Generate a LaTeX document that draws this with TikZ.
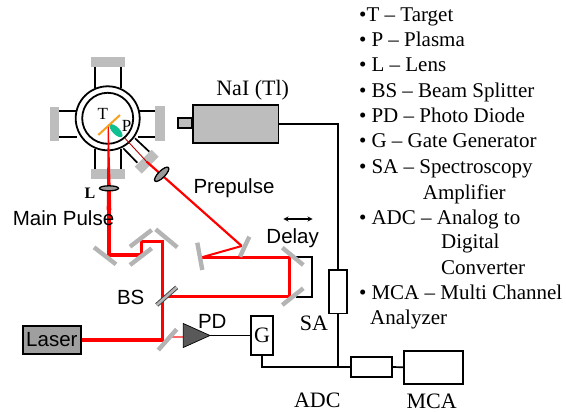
\documentclass[tikz,border=0pt]{standalone}
\usepackage{fontspec}
\setmainfont{Liberation Serif}
\setsansfont{Liberation Sans}
\definecolor{Mirror}{HTML}{b4b4b4}
\definecolor{Flange}{HTML}{bdbdbd}
\definecolor{Beam}{HTML}{ff0000}
\definecolor{Target}{HTML}{f5a01e}
\definecolor{Plasma}{HTML}{10c090}
\tikzset{%
wire/.style={draw, line width=1.7pt},%
box/.style={draw, line width=1.7pt, inner sep=0pt, fill=white},%
beamline/.style={draw=Beam, line width=3.3pt, line join=miter},%
mirror/.style={draw=Mirror, line width=4.4pt},%
flange/.style={fill=Flange},%
lens/.style={draw, fill=gray!80, line width=1.3pt},%
serif/.style={font=\fontsize{22}{24}\selectfont, inner sep=0pt},%
sans/.style={font=\sffamily\fontsize{20.5}{22}\selectfont, inner sep=0pt},%
item/.style={font=\fontsize{21}{23}\selectfont, inner sep=0pt, anchor=base west},%
}%
\begin{document}
\begin{tikzpicture}[x=1pt, y=-1pt]%
\useasboundingbox (0,0) rectangle (566,412);%
\draw[wire] (95.3,66) -- (95.3,88);%
\draw[wire] (120.7,66) -- (120.7,88);%
\draw[wire] (59,111) -- (77,111);%
\draw[wire] (59,136.7) -- (77,136.7);%
\draw[wire] (138,111) -- (156,111);%
\draw[wire] (138,136.7) -- (156,136.7);%
\draw[wire] (95.3,149) -- (95.3,170);%
\draw[wire] (120.7,149) -- (120.7,170);%
\draw[wire] (135,138.3) -- (149.3,151.7);%
\draw[wire] (123.3,148.3) -- (137.3,162.7);%
\fill[flange] (90.7,57.3) rectangle (125,66.7);%
\fill[flange] (50,106.7) rectangle (59.3,141);%
\fill[flange] (155.3,105.7) rectangle (164.7,141);%
\fill[flange] (90.7,169.3) rectangle (125,178.7);%
\fill[flange, rotate around={45:(146.7,161.7)}] (134.7,156.7) rectangle (158.7,166.7);%
\draw[line width=1.8pt, fill=white] (107.7,118.3) circle (32);%
\draw[line width=1.8pt, fill=white] (107.7,118.3) circle (25.5);%
\fill[Plasma, rotate around={-45:(116,130.7)}] (116,130.7) ellipse (8.5 and 3.6);%
\coordinate (target) at (108.3,125);%
\coordinate (lensL) at (109,188.3);%
\coordinate (bend1) at (109,255);%
\coordinate (bend2) at (141.7,255);%
\coordinate (bend3) at (141.7,241.7);%
\coordinate (bend4) at (162.7,241.7);%
\coordinate (laserbend) at (162.7,340);%
\coordinate (split) at (162.7,296.7);%
\coordinate (delay1) at (289.3,296.7);%
\coordinate (delay2) at (289.3,257.3);%
\coordinate (fold1) at (201.7,257.3);%
\coordinate (fold2) at (241.7,246);%
\coordinate (flangeP) at (146.7,161.7);%
\coordinate (plasma) at (125,138.3);%
\coordinate (pick) at (167.5,337);%
\coordinate (beamtop) at (109,208);%
\fill[Beam] (107.8,125) -- (108.8,125) -- (111.3,210) -- (106.7,210) -- cycle;%
\draw[Target, line width=2pt] (98.3,135) -- (120,115);%
\node[serif, font=\fontsize{17}{19}\selectfont] (labelT) at (102.7,114) {T};%
\node[serif, font=\fontsize{17}{19}\selectfont] (labelP) at (126.7,126) {P};%
\draw[Beam!70!black, line width=0.9pt] (plasma) -- (flangeP);%
\draw[Beam, line width=2.2pt] (flangeP) -- (fold2);%
\draw[Beam, line width=2pt] (fold2) -- (fold1);%
\draw[beamline, line width=2.7pt] (fold1) -- (delay2) -- (delay1) -- (split);%
\node[box, fill=gray!75, minimum width=58pt, minimum height=28pt, anchor=north west, sans] (laser) at (22,325) {Laser};%
\draw[beamline] (beamtop) -- (bend1) -- (bend2) -- (bend3) -- (bend4) -- (laserbend) -- (laser.east |- laserbend);%
\draw[mirror] (94,247.3) -- (116,264.3);%
\draw[mirror] (130,265) -- (151.7,248.3);%
\draw[mirror] (130,246.7) -- (151.7,230);%
\draw[mirror] (155.7,229.3) -- (177.3,247.3);%
\draw[mirror] (197.3,242.7) -- (202.3,270);%
\draw[mirror] (249.3,236.7) -- (240,256.7);%
\draw[line width=2.2pt] (296,257.3) -- (311.7,257.3) -- (311.7,297.3) -- (296,297.3);%
\draw[mirror] (282.3,247.7) -- (303.3,265);%
\draw[mirror] (282.3,305) -- (303.3,288.3);%
\draw[Beam!60!white, line width=1.4pt] (pick) -- (183.3,337);%
\draw[mirror] (158.3,350) -- (176.7,329.3);%
\draw[draw=gray!50!black, line width=4.4pt] (156.7,305) -- (176.7,287.3);%
\draw[mirror, line width=2.6pt] (156.7,305) -- (176.7,287.3);%
\draw[lens] (lensL) ellipse (9.5 and 2.5);%
\draw[lens, rotate around={45:(161.7,174.3)}] (161.7,174.3) ellipse (9.5 and 3.4);%
\node[serif, font=\bfseries\fontsize{16}{18}\selectfont] (labelL) at (90,193) {L};%
\node[sans] (mainpulse) at (63.5,218) {Main Pulse};%
\node[sans] (prepulse) at (234,188) {Prepulse};%
\node[sans] (delay) at (292.7,238) {Delay};%
\node[sans] (bs) at (130.7,297) {BS};%
\node[sans] (pd) at (212.3,321) {PD};%
\draw[<->, >=stealth, line width=1.3pt] (283.3,219) -- (312.7,219);%
\node[box, fill=Flange, minimum width=85.4pt, minimum height=38pt, anchor=north west] (nai) at (192.3,104) {};%
\node[box, fill=Flange, minimum width=13.3pt, minimum height=9.4pt, anchor=east] (naitip) at (192.3,123) {};%
\node[serif] (nailabel) at (252.7,90.5) {NaI (Tl)};%
\node[box, minimum width=18pt, minimum height=43.3pt] (sa) at (337.7,291.7) {};%
\node[box, minimum width=41pt, minimum height=19.4pt] (adc) at (371.2,367) {};%
\node[box, minimum width=58.7pt, minimum height=33.3pt] (mca) at (433.3,367.3) {};%
\node[box, minimum width=22.6pt, minimum height=38.7pt, font=\fontsize{22}{24}\selectfont] (gate) at (262,335.5) {G};%
\coordinate (ampin) at (183.3,335.5);%
\coordinate (ampout) at (210,335.5);%
\coordinate (naicorner) at (sa.north |- nai.east);%
\coordinate (junction) at (sa.south |- adc.west);%
\coordinate (gatecorner) at (gate.south |- adc.west);%
\fill[gray!70!black, draw=black, line width=0.7pt] (183.3,323.5) -- (ampout) -- (183.3,347.5) -- cycle;%
\draw[wire] (ampout) -- (gate.west);%
\draw[wire] (nai.east) -- (naicorner) -- (sa.north);%
\draw[wire] (sa.south) -- (junction);%
\draw[wire] (gate.south) -- (gatecorner) -- (adc.west);%
\draw[wire] (adc.east) -- (mca.west);%
\node[serif] (salabel) at (314,323.3) {SA};%
\node[serif] (adclabel) at (317.3,400) {ADC};%
\node[serif] (mcalabel) at (431.7,401.5) {MCA};%
\node[item] (itemT) at (359,22) {•T – Target};%
\node[item] (itemP) at (359,46.7) {•\hspace{5pt}P – Plasma};%
\node[item] (itemL) at (359,72) {•\hspace{5pt}L – Lens};%
\node[item] (itemBS) at (359,98) {•\hspace{5pt}BS – Beam Splitter};%
\node[item] (itemPD) at (359,122.7) {•\hspace{5pt}PD – Photo Diode};%
\node[item] (itemG) at (359,148) {•\hspace{5pt}G – Gate Generator};%
\node[item] (itemSA) at (359,174) {•\hspace{5pt}SA – Spectroscopy};%
\node[item] (itemSAb) at (422.7,199.3) {Amplifier};%
\node[item] (itemADC) at (359,224) {•\hspace{5pt}ADC – Analog to};%
\node[item] (itemADCb) at (441,248.7) {Digital};%
\node[item] (itemADCc) at (441,274.7) {Converter};%
\node[item] (itemMCA) at (359,299.3) {•\hspace{5pt}MCA – Multi Channel};%
\node[item] (itemMCAb) at (370,324.7) {Analyzer};%
\end{tikzpicture}
\end{document}
